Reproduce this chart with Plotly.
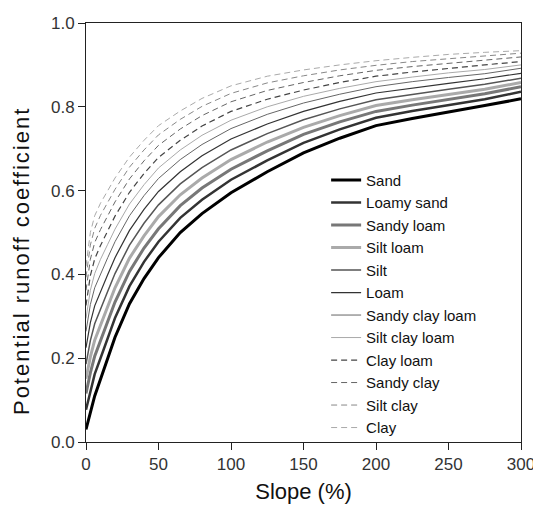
import plotly.graph_objects as go

slope = [0, 3, 6, 10, 15, 20, 30, 40, 50, 65, 80, 100, 125, 150, 175, 200, 225, 250, 275, 300]

sand            = [0.030, 0.070, 0.110, 0.150, 0.200, 0.250, 0.330, 0.390, 0.440, 0.500, 0.545, 0.595, 0.645, 0.690, 0.725, 0.755, 0.772, 0.787, 0.803, 0.819]
loamy_sand      = [0.077, 0.122, 0.162, 0.200, 0.248, 0.296, 0.372, 0.430, 0.478, 0.535, 0.578, 0.626, 0.672, 0.714, 0.746, 0.774, 0.790, 0.804, 0.818, 0.836]
sandy_loam      = [0.116, 0.165, 0.205, 0.242, 0.288, 0.334, 0.407, 0.463, 0.509, 0.564, 0.606, 0.651, 0.695, 0.734, 0.764, 0.789, 0.804, 0.817, 0.831, 0.848]
silt_loam       = [0.151, 0.203, 0.243, 0.280, 0.324, 0.368, 0.439, 0.492, 0.538, 0.590, 0.630, 0.674, 0.716, 0.751, 0.779, 0.803, 0.817, 0.830, 0.842, 0.858]
silt            = [0.186, 0.242, 0.282, 0.318, 0.360, 0.402, 0.470, 0.522, 0.566, 0.616, 0.655, 0.697, 0.736, 0.769, 0.795, 0.817, 0.830, 0.842, 0.854, 0.868]
loam            = [0.225, 0.285, 0.325, 0.360, 0.400, 0.440, 0.505, 0.555, 0.598, 0.645, 0.683, 0.723, 0.759, 0.789, 0.813, 0.833, 0.845, 0.856, 0.867, 0.880]
sandy_clay_loam = [0.264, 0.328, 0.368, 0.402, 0.440, 0.478, 0.540, 0.588, 0.629, 0.674, 0.710, 0.748, 0.782, 0.809, 0.830, 0.848, 0.860, 0.870, 0.879, 0.892]
silt_clay_loam  = [0.295, 0.362, 0.402, 0.436, 0.472, 0.508, 0.568, 0.614, 0.654, 0.697, 0.732, 0.768, 0.800, 0.825, 0.844, 0.860, 0.871, 0.881, 0.889, 0.900]
clay_loam       = [0.326, 0.397, 0.437, 0.469, 0.504, 0.539, 0.596, 0.641, 0.679, 0.720, 0.754, 0.789, 0.818, 0.840, 0.858, 0.873, 0.883, 0.892, 0.900, 0.908]
sandy_clay      = [0.362, 0.436, 0.476, 0.507, 0.540, 0.573, 0.628, 0.671, 0.708, 0.747, 0.779, 0.812, 0.839, 0.858, 0.874, 0.887, 0.896, 0.904, 0.911, 0.919]
silt_clay       = [0.393, 0.470, 0.510, 0.541, 0.572, 0.603, 0.656, 0.697, 0.733, 0.770, 0.801, 0.832, 0.857, 0.874, 0.888, 0.899, 0.908, 0.915, 0.921, 0.928]
clay            = [0.420, 0.500, 0.540, 0.570, 0.600, 0.630, 0.680, 0.720, 0.755, 0.790, 0.820, 0.850, 0.873, 0.888, 0.900, 0.910, 0.918, 0.925, 0.930, 0.934]

names = ["Sand", "Loamy sand", "Sandy loam", "Silt loam", "Silt", "Loam",
         "Sandy clay loam", "Silt clay loam", "Clay loam", "Sandy clay", "Silt clay", "Clay"]
series = [sand, loamy_sand, sandy_loam, silt_loam, silt, loam,
          sandy_clay_loam, silt_clay_loam, clay_loam, sandy_clay, silt_clay, clay]
colors = ["#000000", "#333333", "#777777", "#aaaaaa", "#555555", "#333333",
          "#666666", "#aaaaaa", "#444444", "#666666", "#888888", "#aaaaaa"]
widths = [3, 2.5, 3, 3, 1.5, 1.2, 1, 1, 1.2, 1, 1, 1]
dashes = ["solid"] * 8 + ["6px,4px"] * 4

fig = go.Figure()
for i, (n, s) in enumerate(zip(names, series)):
    fig.add_trace(go.Scatter(
        x=slope, y=s, name=n, mode="lines",
        line=dict(color=colors[i], width=widths[i], dash=dashes[i]),
    ))

font = "Liberation Sans, Arial, sans-serif"
# page body has an 8px margin, so the figure is sized to fit inside the window
fig.update_layout(
    width=533, height=507,
    margin=dict(l=78, r=20, t=15, b=73, autoexpand=False),
    paper_bgcolor="white", plot_bgcolor="white",
    font=dict(family=font, color="#222222", size=16),
    showlegend=True,
    legend=dict(x=0.552, y=0.664, xanchor="left", yanchor="top",
                bgcolor="rgba(0,0,0,0)", borderwidth=0,
                font=dict(size=15, color="#111111"),
                tracegroupgap=0, itemwidth=30),
    xaxis=dict(range=[0, 300], tickvals=[0, 50, 100, 150, 200, 250, 300],
               showgrid=False, zeroline=False, showline=True, linecolor="#222222",
               linewidth=1, mirror=True, ticks="outside", ticklen=7, tickcolor="#222222",
               tickfont=dict(size=17, color="#333333"), automargin=False,
               title=dict(text="Slope (%)", font=dict(size=22, color="#111111"), standoff=10)),
    yaxis=dict(range=[0, 1.0], tickvals=[0, 0.2, 0.4, 0.6, 0.8, 1.0], tickformat=".1f",
               showgrid=False, zeroline=False, showline=True, linecolor="#222222",
               linewidth=1, mirror=True, ticks="outside", ticklen=7, tickcolor="#222222",
               tickfont=dict(size=17, color="#333333"), automargin=False),
    annotations=[dict(
        text='<span style="letter-spacing:2px">Potential runoff coefficient</span>',
        textangle=-90, xref="paper", yref="paper", x=-0.147, y=0.432,
        xanchor="center", yanchor="middle", showarrow=False,
        font=dict(size=22, color="#111111", family=font),
    )],
)

fig.write_html("out.html")
